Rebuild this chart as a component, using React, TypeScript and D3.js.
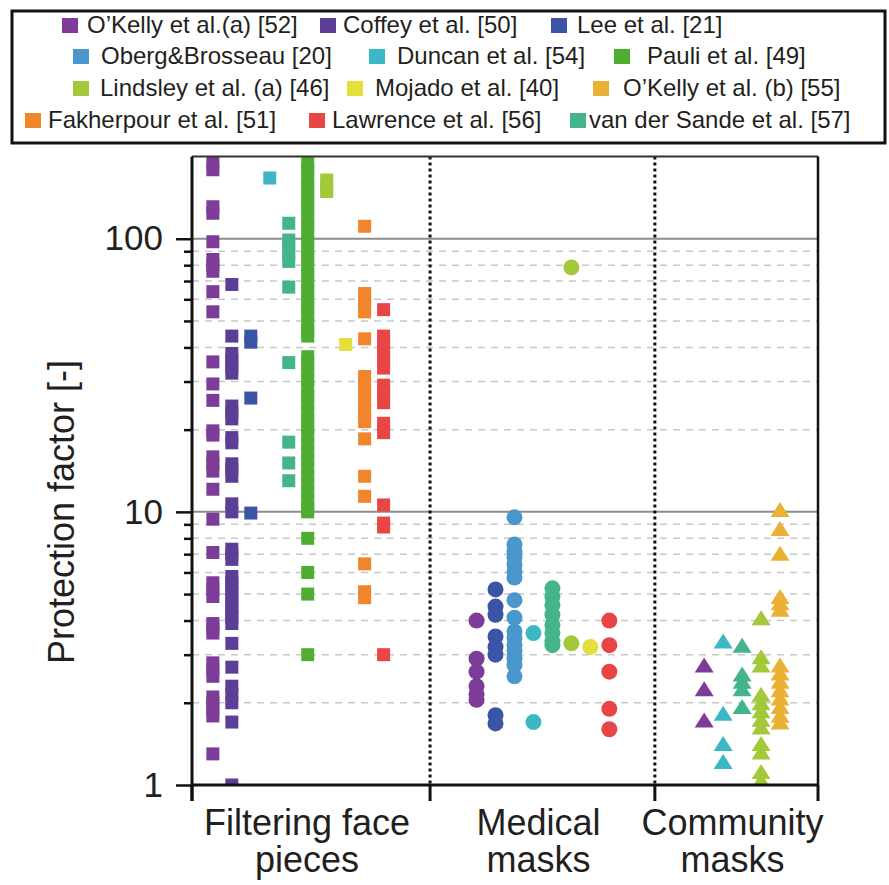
import { useEffect, useRef } from "react";
import * as d3 from "d3";

// studies, in legend order
const studies = [
  "O’Kelly et al.(a) [52]",
  "Coffey et al. [50]",
  "Lee et al. [21]",
  "Oberg&Brosseau [20]",
  "Duncan et al. [54]",
  "Pauli et al. [49]",
  "Lindsley et al. (a) [46]",
  "Mojado et al. [40]",
  "O’Kelly et al. (b) [55]",
  "Fakherpour et al. [51]",
  "Lawrence et al. [56]",
  "van der Sande et al. [57]",
];
const studyColors = [
  "#7D3C97", "#5B3F96", "#3A55A5", "#4A97CE", "#3BB8C4", "#4FAE32",
  "#A3C83A", "#E4DF3A", "#EAB135", "#F0862C", "#E84646", "#44B48A",
];

const categories = ["Filtering face\npieces", "Medical\nmasks", "Community\nmasks"];

// Filtering face pieces
const ffpOKellyA = [190, 179, 131, 124, 97.5, 84, 80, 76, 64, 54, 35.4, 29.4, 25.6, 19.8, 19.1, 15.9, 15, 14.1, 12.1, 9.4, 7.1, 5.5, 5.2, 4.9, 3.9, 3.75, 3.6, 2.8, 2.65, 2.5, 2.1, 2.0, 1.88, 1.79, 1.3];
const ffpCoffey = [68, 44, 38, 36, 34, 32.2, 24.4, 23.1, 21.9, 18.7, 17.9, 15, 14.3, 13.5, 10.7, 10, 7.3, 7.0, 6.7, 5.8, 5.5, 5.25, 5.0, 4.75, 4.5, 4.3, 4.1, 3.9, 3.3, 2.7, 2.3, 2.15, 2.0, 1.7, 1.0];
const ffpLee = [44, 41.8, 26.1, 9.9];
const ffpDuncan = [167];
const ffpVanDerSande = [114, 99, 93.5, 88, 82.6, 66.5, 35.2, 18, 15.1, 13];
const ffpPauli = [190, 178, 166, 155, 145, 135, 127, 118, 111, 103, 97, 90, 85, 79, 74, 69, 64.5, 60, 56, 53, 49, 46, 44,
  37, 35, 32.5, 30.5, 28.5, 26.5, 25, 23, 21.5, 20.3, 19, 17.7, 16.6, 15.5, 14.5, 13.5, 12.7, 11.8, 11.1, 10.3, 10, 8, 6, 5, 3];
const ffpLindsley = [164, 156, 149];
const ffpMojado = [41];
const ffpFakherpour = [111, 63, 60, 57, 54, 43, 31.3, 29.4, 27.5, 25.7, 24, 22.7, 21.4, 18.5, 13.5, 11.4, 6.45, 5.1, 4.85];
const ffpLawrence = [55, 44, 41.6, 39.2, 37.3, 35.3, 33.6, 29.1, 27.5, 26.6, 25.1, 21.1, 19.5, 10.6, 9.1, 8.8, 3.0];

// Medical masks
const medOKellyA = [4.0, 2.9, 2.6, 2.3, 2.15, 2.05];
const medLee = [5.2, 4.5, 4.2, 3.5, 3.2, 3.0, 1.8, 1.68];
const medOberg = [9.55, 7.6, 7.15, 6.8, 6.4, 6.05, 5.75, 4.75, 4.1, 3.65, 3.45, 3.25, 3.1, 2.9, 2.75, 2.5];
const medDuncan = [3.6, 1.7];
const medVanDerSande = [5.25, 4.9, 4.55, 4.2, 3.85, 3.6, 3.35, 3.25];
const medLindsley = [78.5, 3.3];
const medMojado = [3.2];
const medLawrence = [4.0, 3.25, 2.6, 1.9, 1.6];

// Community masks
const comOKellyA = [2.75, 2.25, 1.73];
const comDuncan = [3.37, 1.83, 1.42, 1.22];
const comVanDerSande = [3.25, 2.55, 2.4, 2.25, 1.94];
const comLindsley = [4.1, 2.95, 2.75, 2.15, 2.0, 1.87, 1.74, 1.63, 1.42, 1.32, 1.12, 1.04];
const comOKellyB = [10.2, 8.7, 7.05, 4.9, 4.65, 4.4, 2.75, 2.57, 2.4, 2.23, 2.08, 1.94, 1.8, 1.7];

// [category, study, column slot, values]
const series: [number, number, number, number[]][] = [
  [0, 0, 1.1, ffpOKellyA], [0, 1, 2.1, ffpCoffey], [0, 2, 3.1, ffpLee], [0, 4, 4.1, ffpDuncan],
  [0, 11, 5.1, ffpVanDerSande], [0, 5, 6.1, ffpPauli], [0, 6, 7.1, ffpLindsley], [0, 7, 8.1, ffpMojado],
  [0, 9, 9.1, ffpFakherpour], [0, 10, 10.1, ffpLawrence],
  [1, 0, 15, medOKellyA], [1, 2, 16, medLee], [1, 3, 17, medOberg], [1, 4, 18, medDuncan],
  [1, 11, 19, medVanDerSande], [1, 6, 20, medLindsley], [1, 7, 21, medMojado], [1, 10, 22, medLawrence],
  [2, 0, 27, comOKellyA], [2, 4, 28, comDuncan], [2, 11, 29, comVanDerSande], [2, 6, 30, comLindsley], [2, 8, 31, comOKellyB],
];
const categoryBounds = [0, 12.55, 24.4, 33];
const majorTicks = [1, 10, 100];
const minorTicks = [2, 3, 4, 5, 6, 7, 8, 9, 20, 30, 40, 50, 60, 70, 80, 90];

// legend layout
const legendMarkerX = [62, 320, 551, 73, 369, 614, 73, 347, 593, 25, 309, 570];
const legendTextX = [87, 343, 577, 101, 397, 647, 100, 375, 623, 48, 332, 589];
const legendBaseline = [33, 64, 96, 128];

const W = 889, H = 885;
const FONT = "Arial, 'Liberation Sans', Helvetica, sans-serif";

const triangleUp = {
  draw(ctx: any) {
    ctx.moveTo(0, -7.5);
    ctx.lineTo(9.5, 7.5);
    ctx.lineTo(-9.5, 7.5);
    ctx.closePath();
  },
};

export default function App() {
  const svgRef = useRef<SVGSVGElement>(null);

  useEffect(() => {
    const svg = d3.select(svgRef.current);
    svg.selectAll("*").remove();

    const x = d3.scaleLinear().domain([0, 33]).range([192, 818]);
    const y = d3.scaleLog().domain([1, 200]).range([785, 156.5]);
    const left = x(0), right = x(33), top = y(200), bottom = y(1);

    // legend
    const lg = svg.append("g");
    lg.append("rect").attr("x", 12).attr("y", 11).attr("width", 873).attr("height", 132)
      .attr("fill", "white").attr("stroke", "#111").attr("stroke-width", 3);
    studies.forEach((s, i) => {
      const b = legendBaseline[Math.floor(i / 3)];
      lg.append("rect").attr("x", legendMarkerX[i]).attr("y", b - 15).attr("width", 16).attr("height", 15)
        .attr("fill", studyColors[i]);
      lg.append("text").attr("x", legendTextX[i]).attr("y", b).text(s)
        .attr("font-family", FONT).attr("font-size", 24).attr("fill", "#231F20");
    });

    // grid
    const grid = svg.append("g");
    grid.selectAll("line.minor").data(minorTicks).join("line")
      .attr("x1", left).attr("x2", right).attr("y1", (d) => y(d)).attr("y2", (d) => y(d))
      .attr("stroke", "#c8c8c8").attr("stroke-width", 1.5).attr("stroke-dasharray", "7,6");
    grid.selectAll("line.major").data([10, 100]).join("line")
      .attr("x1", left).attr("x2", right).attr("y1", (d) => y(d)).attr("y2", (d) => y(d))
      .attr("stroke", "#8c8c8c").attr("stroke-width", 2);

    // marks
    svg.append("clipPath").attr("id", "plotclip").append("rect")
      .attr("x", left).attr("y", top).attr("width", right - left).attr("height", bottom - top);
    const marks = svg.append("g").attr("clip-path", "url(#plotclip)");
    const shapes = [
      d3.symbol(d3.symbolSquare, 169),
      d3.symbol(d3.symbolCircle, 201),
      d3.symbol(triangleUp as any, 1),
    ];
    series.forEach(([cat, st, slot, vals]) => {
      marks.append("g").selectAll("path").data(vals).join("path")
        .attr("d", shapes[cat]())
        .attr("transform", (d) => `translate(${x(slot)},${y(d)})`)
        .attr("fill", studyColors[st]);
    });

    // category separators
    svg.selectAll("line.sep").data(categoryBounds.slice(1, 3)).join("line")
      .attr("x1", (d) => x(d)).attr("x2", (d) => x(d)).attr("y1", top).attr("y2", bottom)
      .attr("stroke", "#111").attr("stroke-width", 3).attr("stroke-dasharray", "3,3");

    // frame
    svg.append("line").attr("x1", left).attr("x2", right).attr("y1", top).attr("y2", top)
      .attr("stroke", "#333").attr("stroke-width", 2);
    svg.append("line").attr("x1", right).attr("x2", right).attr("y1", top).attr("y2", bottom)
      .attr("stroke", "#111").attr("stroke-width", 2.5);

    // y axis
    const yAxis = svg.append("g").attr("transform", `translate(${left},0)`)
      .call(d3.axisLeft(y).tickValues(majorTicks).tickSize(16).tickPadding(13).tickFormat(d3.format("d")));
    yAxis.select(".domain").remove();
    yAxis.selectAll(".tick line").attr("stroke", "#111").attr("stroke-width", 2.5);
    yAxis.selectAll(".tick text").attr("font-family", FONT).attr("font-size", 35).attr("fill", "#231F20");
    const yMinor = svg.append("g").attr("transform", `translate(${left},0)`)
      .call(d3.axisLeft(y).tickValues(minorTicks).tickSize(8).tickFormat(() => ""));
    yMinor.select(".domain").remove();
    yMinor.selectAll(".tick line").attr("stroke", "#111").attr("stroke-width", 2.5);
    svg.append("line").attr("x1", left).attr("x2", left).attr("y1", top).attr("y2", bottom + 16)
      .attr("stroke", "#111").attr("stroke-width", 3);

    // x axis
    svg.append("line").attr("x1", left).attr("x2", right).attr("y1", bottom).attr("y2", bottom)
      .attr("stroke", "#111").attr("stroke-width", 3);
    svg.selectAll("line.xt").data(categoryBounds).join("line")
      .attr("x1", (d) => x(d)).attr("x2", (d) => x(d)).attr("y1", bottom).attr("y2", bottom + 16)
      .attr("stroke", "#111").attr("stroke-width", 3);
    categories.forEach((c, i) => {
      const cx = x((categoryBounds[i] + categoryBounds[i + 1]) / 2) - 4;
      const t = svg.append("text").attr("text-anchor", "middle").attr("font-family", FONT)
        .attr("font-size", 36).attr("fill", "#231F20");
      c.split("\n").forEach((line, j) => {
        t.append("tspan").attr("x", cx).attr("y", 835 + j * 37).text(line);
      });
    });

    // y title
    svg.append("text").attr("transform", "translate(74,512) rotate(-90)")
      .attr("text-anchor", "middle").attr("font-family", FONT).attr("font-size", 36)
      .attr("fill", "#231F20").text("Protection factor [-]");
  }, []);

  return (
    <svg ref={svgRef} width={W} height={H}
      style={{ position: "absolute", left: 0, top: 0, background: "white" }} />
  );
}
